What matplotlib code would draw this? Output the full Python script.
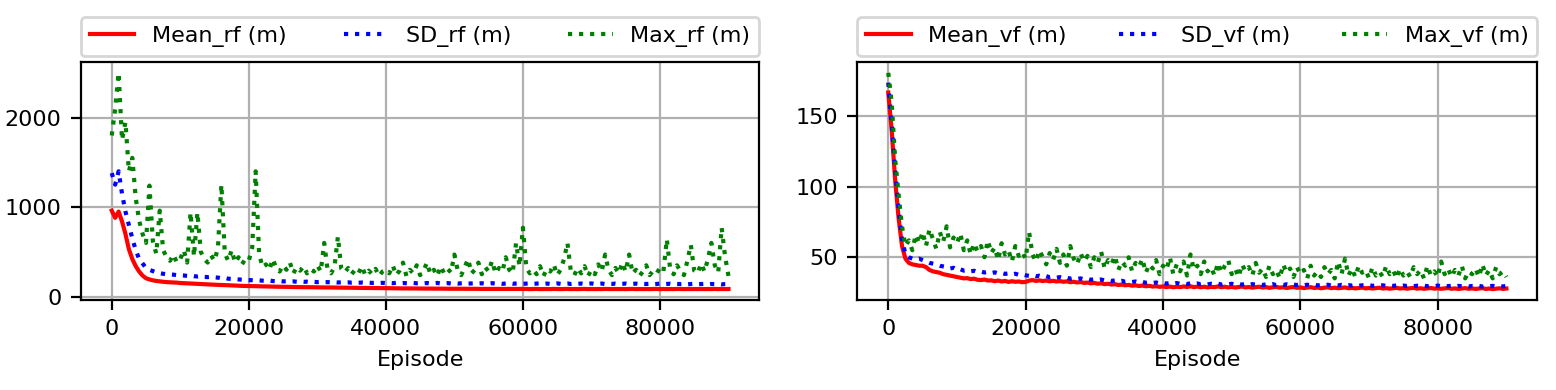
import matplotlib
matplotlib.use("Agg")
from matplotlib import pyplot as plt

step = 500  # episodes between samples

mean_rf = [960, 880, 950, 840, 700, 530, 420, 340, 280, 235,
           205, 192, 182, 175, 170, 166, 162, 160, 158, 156,
           152, 150, 148, 147, 145, 142, 140, 139, 137, 135,
           132, 131, 130, 128, 127, 125, 124, 122, 120, 119,
           118, 118, 116, 115, 114, 114, 112, 112, 111, 110,
           110, 109, 108, 108, 107, 106, 106, 105, 105, 104,
           104, 103, 103, 102, 102, 101, 101, 100, 100, 99,
           99, 98, 98, 97, 97, 96, 96, 95, 95, 95,
           94, 94, 93, 93, 92, 92, 92, 91, 91, 91,
           90, 90, 90, 89, 89, 89, 89, 88, 88, 88,
           88, 88, 87, 87, 87, 87, 87, 86, 86, 86,
           86, 86, 86, 86, 85, 85, 85, 85, 85, 85,
           85, 86, 84, 85, 86, 84, 85, 85, 84, 86,
           85, 84, 85, 86, 84, 85, 84, 85, 86, 84,
           85, 84, 85, 84, 86, 85, 84, 85, 84, 85,
           84, 85, 86, 84, 85, 84, 85, 84, 85, 86,
           84, 85, 84, 85, 84, 86, 85, 84, 85, 84,
           85, 84, 85, 84, 85, 84, 86, 84, 85, 84,
           85]

sd_rf = [1380, 1250, 1400, 1150, 950, 800, 650, 520, 420, 370,
         320, 300, 285, 270, 262, 255, 250, 248, 245, 240,
         238, 236, 232, 235, 228, 225, 230, 220, 218, 222,
         215, 212, 205, 210, 200, 198, 195, 192, 190, 186,
         185, 183, 180, 182, 178, 176, 180, 174, 172, 175,
         170, 172, 168, 170, 166, 168, 165, 167, 163, 165,
         162, 164, 160, 162, 159, 161, 158, 160, 157, 159,
         156, 158, 155, 157, 154, 156, 153, 155, 152, 154,
         151, 153, 150, 154, 149, 152, 150, 147, 153, 149,
         151, 148, 152, 147, 150, 153, 146, 149, 151, 147,
         150, 146, 149, 152, 145, 148, 150, 146, 149, 144,
         147, 150, 145, 148, 143, 147, 150, 144, 146, 149,
         143, 146, 148, 142, 145, 149, 143, 146, 141, 145,
         148, 142, 144, 147, 141, 145, 143, 146, 140, 144,
         147, 141, 143, 146, 140, 144, 142, 145, 139, 143,
         146, 140, 142, 145, 139, 143, 141, 144, 138, 142,
         145, 139, 141, 144, 138, 142, 140, 143, 137, 141,
         144, 138, 140, 143, 137, 141, 139, 142, 137, 140,
         141]

max_rf = [1800, 2100, 2500, 1750, 1950, 1400, 1550, 1100, 850, 700,
          600, 1240, 620, 480, 960, 520, 440, 400, 470, 380,
          420, 520, 380, 940, 450, 940, 500, 420, 380, 460,
          400, 550, 1250, 480, 400, 520, 380, 440, 360, 420,
          400, 550, 1400, 480, 330, 360, 300, 420, 320, 280,
          350, 300, 380, 260, 330, 290, 340, 260, 310, 280,
          350, 280, 600, 300, 260, 330, 670, 310, 270, 320,
          250, 300, 260, 340, 240, 290, 250, 310, 230, 280,
          300, 260, 350, 240, 290, 380, 230, 300, 260, 350,
          240, 290, 380, 250, 300, 230, 340, 260, 310, 270,
          470, 290, 240, 330, 420, 260, 300, 380, 250, 330,
          280, 400, 260, 320, 280, 440, 300, 260, 600, 340,
          770, 320, 260, 300, 250, 340, 230, 310, 280, 360,
          240, 300, 420, 600, 280, 240, 320, 260, 340, 230,
          300, 250, 360, 280, 470, 300, 240, 320, 260, 380,
          280, 470, 260, 300, 230, 280, 350, 240, 290, 260,
          320, 280, 640, 300, 250, 350, 280, 240, 400, 580,
          290, 260, 370, 280, 420, 600, 350, 270, 770, 450,
          230]

mean_vf = [167, 140, 105, 78, 58, 49, 46, 45, 44.5, 44,
           44, 43, 41, 40, 39.5, 39, 38, 37.5, 37, 36.5,
           36, 35.5, 35, 35.2, 34.5, 34.8, 34, 33.8, 34.2, 33.5,
           33.6, 33, 33.5, 32.8, 33.2, 32.5, 33, 32.6, 32.8, 32.3,
           32.5, 33.4, 33.8, 33.2, 33.6, 33.1, 33.5, 32.9, 33.3, 32.8,
           33.1, 32.6, 32.9, 32.3, 32.6, 32.1, 32.4, 31.8, 32.0, 31.5,
           31.8, 31.2, 31.5, 30.9, 31.2, 30.6, 30.9, 30.3, 30.6, 30.1,
           30.4, 29.8, 30.1, 29.6, 29.9, 29.4, 29.7, 29.2, 29.5, 29.0,
           29.3, 28.8, 29.2, 28.7, 29.1, 28.8, 29.3, 28.9, 29.4, 28.8,
           29.2, 28.7, 29.1, 28.6, 29.0, 28.8, 29.3, 28.7, 29.1, 28.6,
           29.0, 28.5, 28.9, 29.2, 28.6, 28.9, 28.4, 28.8, 29.1, 28.5,
           28.8, 28.3, 28.7, 29.0, 28.4, 28.7, 28.2, 28.6, 28.9, 28.3,
           28.6, 28.1, 28.5, 28.8, 28.2, 28.5, 28.0, 28.4, 28.7, 28.1,
           28.4, 28.0, 28.3, 28.6, 28.0, 28.3, 27.9, 28.2, 28.5, 27.9,
           28.2, 27.8, 28.1, 28.4, 27.8, 28.1, 27.7, 28.0, 28.3, 27.8,
           28.1, 27.7, 28.0, 28.3, 27.7, 28.0, 27.6, 27.9, 28.2, 27.7,
           28.0, 27.6, 27.9, 28.2, 27.6, 27.9, 27.5, 27.8, 28.1, 27.6,
           27.9, 27.5, 27.8, 28.1, 27.5, 27.8, 27.4, 27.7, 28.0, 27.5,
           27.8]

sd_vf = [174, 145, 112, 85, 63, 52, 50, 49, 48.5, 49,
         48, 47, 46, 45.5, 45, 44, 43.5, 43, 42, 42.5,
         41, 41.5, 40.5, 40.8, 40, 40.4, 39.5, 39.8, 39.2, 39.6,
         38.8, 39.3, 38.5, 38.9, 38.2, 38.6, 37.8, 38.3, 37.5, 37.9,
         37.2, 36.8, 37.3, 36.5, 36.9, 36.2, 36.6, 35.8, 36.3, 35.5,
         35.9, 35.2, 35.6, 34.8, 35.3, 34.6, 35.0, 34.3, 34.7, 34.0,
         34.4, 33.8, 34.2, 33.5, 33.9, 33.2, 33.6, 32.9, 33.3, 32.6,
         33.0, 32.4, 32.8, 32.1, 32.5, 31.9, 32.3, 31.7, 32.1, 31.5,
         31.9, 31.3, 31.8, 31.2, 31.7, 31.1, 31.6, 31.0, 31.5, 30.9,
         31.4, 30.8, 31.3, 30.7, 31.2, 30.8, 31.3, 30.6, 31.1, 30.7,
         31.2, 30.5, 31.0, 30.6, 31.1, 30.4, 30.9, 30.5, 31.0, 30.3,
         30.8, 30.4, 30.9, 30.2, 30.7, 30.3, 30.8, 30.2, 30.6, 30.3,
         30.7, 30.1, 30.5, 30.2, 30.6, 30.0, 30.4, 30.1, 30.5, 29.9,
         30.3, 30.0, 30.4, 29.9, 30.2, 29.9, 30.3, 29.8, 30.1, 29.8,
         30.2, 29.7, 30.0, 29.8, 30.1, 29.6, 29.9, 29.7, 30.0, 29.5,
         29.9, 29.6, 30.0, 29.5, 29.8, 29.6, 29.9, 29.4, 29.8, 29.5,
         29.9, 29.4, 29.7, 29.5, 29.8, 29.3, 29.7, 29.4, 29.8, 29.3,
         29.6, 29.4, 29.7, 29.2, 29.6, 29.3, 29.7, 29.2, 29.5, 29.3,
         29.6]

max_vf = [181, 160, 120, 95, 72, 58, 62, 55, 66, 60,
          68, 58, 70, 63, 56, 68, 61, 72, 57, 64,
          60, 67, 55, 62, 52, 60, 54, 58, 50, 62,
          53, 57, 48, 60, 52, 55, 47, 58, 51, 54,
          49, 68, 52, 47, 55, 50, 45, 53, 48, 56,
          46, 52, 44, 58, 49, 45, 53, 47, 51, 43,
          50, 46, 54, 42, 48, 45, 51, 41, 47, 44,
          50, 40, 46, 43, 49, 39, 45, 42, 48, 38,
          44, 41, 50, 38, 45, 40, 47, 37, 52, 41,
          44, 38, 47, 40, 43, 37, 46, 39, 44, 48,
          38, 42, 36, 45, 40, 43, 37, 46, 39, 42,
          36, 44, 38, 41, 35, 45, 39, 42, 36, 43,
          38, 41, 35, 44, 37, 40, 36, 43, 38, 41,
          35, 47, 38, 49, 37, 42, 36, 44, 39, 41,
          35, 43, 37, 40, 36, 44, 38, 41, 35, 42,
          37, 40, 36, 43, 38, 41, 35, 44, 37, 40,
          36, 47, 38, 42, 36, 41, 37, 44, 35, 40,
          38, 42, 36, 45, 37, 41, 35, 43, 38, 40,
          36]

plt.rcParams['font.size'] = 8

fig = plt.figure(figsize=(7.78, 1.95), dpi=200)
ax1 = fig.add_axes([0.052, 0.231, 0.436, 0.610])
ax2 = fig.add_axes([0.551, 0.231, 0.437, 0.610])

for ax, mean, sd, mx, tag in [(ax1, mean_rf, sd_rf, max_rf, 'rf'),
                              (ax2, mean_vf, sd_vf, max_vf, 'vf')]:
    x_mean = [i * step for i in range(len(mean))]
    x_sd = [i * step for i in range(len(sd))]
    x_max = [i * step for i in range(len(mx))]
    ax.plot(x_mean, mean, color='r', label='Mean_%s (m)' % tag)
    ax.plot(x_sd, sd, color='b', linestyle=':', label='SD_%s (m)' % tag)
    ax.plot(x_max, mx, color='g', linestyle=':', label='Max_%s (m)' % tag)
    ax.set_xlabel("Episode")
    ax.grid(True)
    ax.set_xticks([0, 20000, 40000, 60000, 80000])
    ax.legend(bbox_to_anchor=(0, 1.025, 1, 0.15), loc='lower left',
              mode='expand', ncol=3, borderaxespad=0)

ax1.set_yticks([0, 1000, 2000])
ax2.set_yticks([50, 100, 150])

plt.savefig('out.png', dpi=200)
